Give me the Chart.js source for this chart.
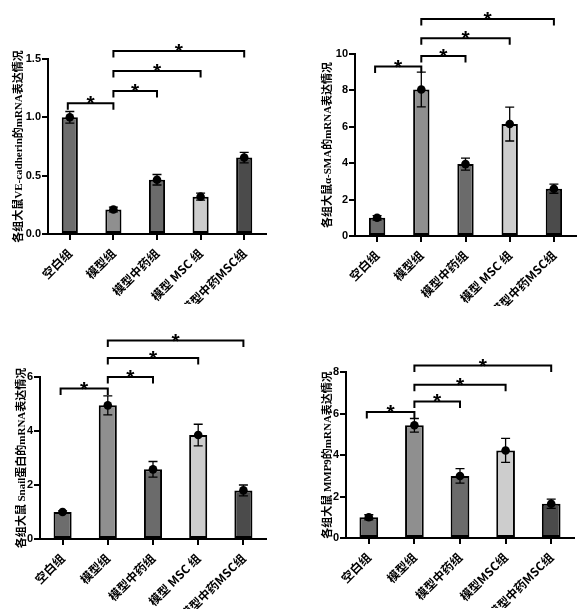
<!DOCTYPE html>
<html><head><meta charset="utf-8">
<script src="https://cdn.jsdelivr.net/npm/chart.js@4"></script>
<style>
html,body{margin:0;padding:0;background:#fff;}
#wrap{position:relative;width:582px;height:615px;overflow:hidden;}
canvas{position:absolute;left:0;top:0;}
</style></head>
<body><div id="wrap">
<canvas id="c1" width="582" height="615"></canvas>
<canvas id="c2" width="582" height="615"></canvas>
<canvas id="c3" width="582" height="615"></canvas>
<canvas id="c4" width="582" height="615"></canvas>
</div>
<script>
// ---- data ----
const categoriesA = ['空白组','模型组','模型中药组','模型 MSC 组','模型中药MSC组'];
const categoriesB = ['空白组','模型组','模型中药组','模型MSC组','模型中药MSC组'];

const veMeans = [1.00, 0.21, 0.465, 0.32, 0.655];
const veErrs  = [0.05, 0.02, 0.045, 0.03, 0.045];
const smaMeans = [1.00, 8.05, 3.95, 6.15, 2.60];
const smaErrs  = [0.12, 0.95, 0.33, 0.93, 0.25];
const snailMeans = [1.00, 4.95, 2.58, 3.85, 1.80];
const snailErrs  = [0.04, 0.35, 0.29, 0.40, 0.20];
const mmpMeans = [1.00, 5.43, 2.99, 4.22, 1.65];
const mmpErrs  = [0.12, 0.33, 0.35, 0.58, 0.22];

const yTicksVE = [0, 0.5, 1.0, 1.5];
const yTicksSMA = [0, 2, 4, 6, 8, 10];
const yTicksSnail = [0, 2, 4, 6];
const yTicksMMP = [0, 2, 4, 6, 8];

// significance brackets: [from index, to index, level in data units]
const veBrackets = [[0,1,1.12],[1,2,1.226],[1,3,1.397],[1,4,1.569]];
const smaBrackets = [[0,1,9.31],[1,2,9.89],[1,3,10.86],[1,4,11.92]];
const snailBrackets = [[0,1,5.57],[1,2,6.0],[1,3,6.70],[1,4,7.35]];
const mmpBrackets = [[0,1,6.07],[1,2,6.58],[1,3,7.39],[1,4,8.31]];

const barColors = ['#6d6d6d','#8f8f8f','#6b6b6b','#cdcdcd','#4b4b4b'];

// ---- drawing helpers ----
const extrasPlugin = {
  id: 'extras',
  afterDatasetsDraw(chart) {
    const o = chart.options.plugins.extras;
    const ctx = chart.ctx, x = chart.scales.x, y = chart.scales.y;
    ctx.save();
    ctx.strokeStyle = '#000'; ctx.fillStyle = '#000';
    // error bars + points
    o.means.forEach((m, i) => {
      const cx = x.getPixelForValue(i);
      const yt = y.getPixelForValue(m + o.errs[i]);
      const yb = y.getPixelForValue(m - o.errs[i]);
      ctx.lineWidth = 1.3;
      ctx.beginPath();
      ctx.moveTo(cx, yt); ctx.lineTo(cx, yb);
      ctx.moveTo(cx - 4.5, yt); ctx.lineTo(cx + 4.5, yt);
      ctx.moveTo(cx - 4.5, yb); ctx.lineTo(cx + 4.5, yb);
      ctx.stroke();
      ctx.beginPath();
      ctx.arc(cx, y.getPixelForValue(m), 4.3, 0, Math.PI * 2);
      ctx.fill();
    });
    // brackets
    ctx.lineWidth = 2;
    ctx.font = 'bold 21px "Liberation Sans", Arial, sans-serif';
    ctx.textAlign = 'center'; ctx.textBaseline = 'alphabetic';
    o.brackets.forEach(b => {
      const x1 = x.getPixelForValue(b[0]) - (b[0] === 0 ? 2 : 0);
      const x2 = x.getPixelForValue(b[1]);
      const yy = y.getPixelForValue(b[2]);
      ctx.beginPath();
      ctx.moveTo(x1, yy + 6.5); ctx.lineTo(x1, yy); ctx.lineTo(x2, yy); ctx.lineTo(x2, yy + 6.5);
      ctx.stroke();
      ctx.fillText('*', (x1 + x2) / 2, yy + 7);
    });
    ctx.restore();
  }
};

function makeChart(id, cfg) {
  const W = 582, H = 615, xAxisH = 70;
  const titleLH = 11 * 1.2;
  const padLeft = cfg.titleX - titleLH / 2;
  const yWidth = cfg.area.left - padLeft;
  return new Chart(document.getElementById(id), {
    type: 'bar',
    data: {
      labels: cfg.labels,
      datasets: [{
        data: cfg.means,
        backgroundColor: barColors,
        borderColor: '#000',
        borderWidth: 2,
        borderSkipped: false,
        barPercentage: cfg.barPct,
        categoryPercentage: 1
      }]
    },
    options: {
      responsive: false,
      animation: false,
      events: [],
      layout: { padding: {
        left: padLeft, top: cfg.area.top,
        right: W - cfg.area.right, bottom: H - cfg.area.bottom - xAxisH } },
      plugins: {
        legend: { display: false }, tooltip: { enabled: false },
        extras: { means: cfg.means, errs: cfg.errs, brackets: cfg.brackets }
      },
      scales: {
        x: {
          afterFit(s) { s.height = xAxisH; },
          grid: { offset: false, drawOnChartArea: false, drawTicks: true, tickLength: 6, color: '#000', lineWidth: 2 },
          border: { color: '#000', width: 2 },
          ticks: {
            autoSkip: false, maxRotation: 45, minRotation: 45, padding: 6,
            color: '#000',
            font: { family: '"Noto Sans CJK SC", sans-serif', size: 12, weight: 'bold' }
          }
        },
        y: {
          min: cfg.yTicks[0], max: cfg.yTicks[cfg.yTicks.length - 1],
          afterFit(s) { s.width = yWidth; },
          afterBuildTicks(s) { s.ticks = cfg.yTicks.map(v => ({ value: v })); },
          grid: { drawOnChartArea: false, drawTicks: true, tickLength: 6, color: '#000', lineWidth: 2 },
          border: { color: '#000', width: 2 },
          ticks: {
            padding: 1, color: '#000',
            font: { family: '"Liberation Sans", Arial, sans-serif', size: 11, weight: 'bold' },
            callback: v => cfg.decimals ? Number(v).toFixed(cfg.decimals) : String(v)
          },
          title: {
            display: true, text: cfg.title, color: '#000',
            padding: { top: 0, bottom: 0 },
            font: { family: '"Liberation Serif", "Noto Sans CJK SC", serif', size: 11, weight: 'bold' }
          }
        }
      }
    },
    plugins: [extrasPlugin]
  });
}

makeChart('c1', { labels: categoriesA, means: veMeans, errs: veErrs, brackets: veBrackets,
  yTicks: yTicksVE, decimals: 1, title: '各组大鼠VE-cadherin的mRNA表达情况',
  area: { left: 48, right: 266, top: 59, bottom: 234 }, titleX: 19, barPct: 0.37 });
makeChart('c2', { labels: categoriesA, means: smaMeans, errs: smaErrs, brackets: smaBrackets,
  yTicks: yTicksSMA, decimals: 0, title: '各组大鼠α-SMA的mRNA表达情况',
  area: { left: 355, right: 576, top: 54, bottom: 236 }, titleX: 328, barPct: 0.37 });
makeChart('c3', { labels: categoriesA, means: snailMeans, errs: snailErrs, brackets: snailBrackets,
  yTicks: yTicksSnail, decimals: 0, title: '各组大鼠 Snail蛋白的mRNA表达情况',
  area: { left: 40, right: 266, top: 377, bottom: 539 }, titleX: 22, barPct: 0.40 });
makeChart('c4', { labels: categoriesB, means: mmpMeans, errs: mmpErrs, brackets: mmpBrackets,
  yTicks: yTicksMMP, decimals: 0, title: '各组大鼠 MMP9的mRNA表达情况',
  area: { left: 346, right: 574, top: 372, bottom: 538 }, titleX: 328, barPct: 0.41 });
</script>
</body></html>
